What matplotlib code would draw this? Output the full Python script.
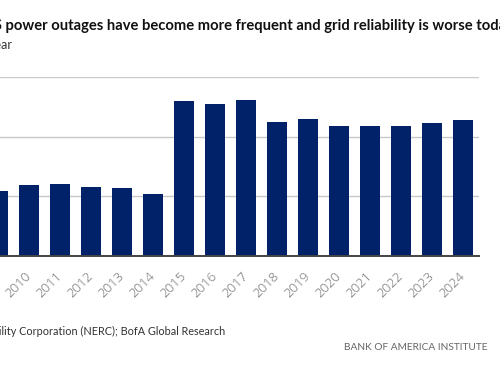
import matplotlib.pyplot as plt

# values (one grid step = 1 unit)
years = [str(y) for y in range(2009, 2025)]
outages = [1.09, 1.19, 1.21, 1.16, 1.14, 1.04, 2.60, 2.54, 2.62,
           2.24, 2.29, 2.17, 2.17, 2.17, 2.22, 2.27]
grid_ticks = [0, 1, 2, 3]

title = "US power outages have become more frequent and grid reliability is worse today"
subtitle = "Number of outages per year"
source = "Source: North American Electric Reliability Corporation (NERC); BofA Global Research"

W, H = 500, 368
fig = plt.figure(figsize=(W / 100, H / 100), dpi=100)

# axes in pixels: left edge sits off the canvas, as in the reference crop
left_px, right_px = -17.3, 478.7
top_px, base_px = 76.9, 256.0
ax = fig.add_axes([left_px / W, (H - base_px) / H,
                   (right_px - left_px) / W, (base_px - top_px) / H])

x = range(len(years))
ax.bar(x, outages, width=0.635, color="#012169", zorder=3)
ax.set_xlim(-0.5, len(years) - 0.5)
ax.set_ylim(0, 3)
ax.set_yticks(grid_ticks)
ax.yaxis.grid(True, color="#c8c8c8", lw=1.0)
ax.tick_params(axis="y", length=0, labelleft=False)
for s in ["top", "right", "left"]:
    ax.spines[s].set_visible(False)
ax.spines["bottom"].set_color("#444444")
ax.spines["bottom"].set_linewidth(1.4)
ax.spines["bottom"].set_zorder(4)

ax.set_xticks(list(x))
ax.set_xticklabels(years, rotation=45, ha="right", va="center",
                   rotation_mode="anchor", fontsize=9.5, fontweight="light",
                   color="#666666", family="Open Sans")
ax.tick_params(axis="x", length=0, pad=13)

# title: only a sliver of "US" shows at the left edge
r = fig.canvas.get_renderer()
kw = dict(fontsize=10.6, fontweight="bold", family="Lato")
p1 = fig.text(0, 0, "US", **kw)
us_w = p1.get_window_extent(r).width
p1.remove()
fig.text((2 - us_w) / W, 1 - 26 / H, title, color="#111111", va="center", **kw)

fig.text(12 / W, 1 - 45 / H, subtitle, fontsize=9, family="Lato",
         color="#333333", ha="right", va="center")
fig.text(225 / W, 1 - 331 / H, source, fontsize=7.8, family="Lato",
         color="#333333", ha="right", va="center")
fig.text(487 / W, 1 - 348 / H, "BANK OF AMERICA INSTITUTE", fontsize=7.3,
         family="Lato", color="#666666", ha="right", va="center")

fig.savefig("out.png", dpi=100)
